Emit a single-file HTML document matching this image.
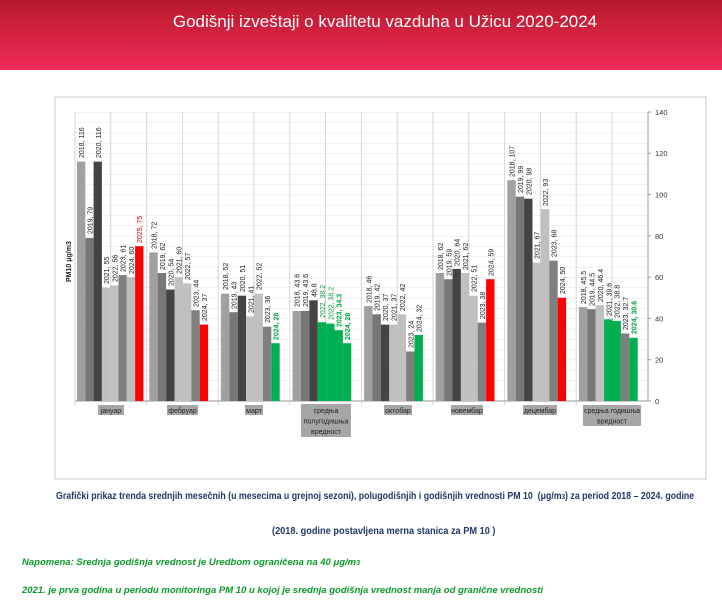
<!DOCTYPE html>
<html><head><meta charset="utf-8"><style>
body{margin:0;width:722px;height:600px;background:#fff;overflow:hidden;font-family:"Liberation Sans",sans-serif;position:relative}
.hdr{position:absolute;left:0;top:0;width:722px;height:70px;background:linear-gradient(#b81a2b,#f02a58)}
.hdr div{position:absolute;left:24px;width:722px;top:12px;text-align:center;color:#fff;font-size:17px}
.t{position:absolute;font-weight:bold;font-size:10px;color:#1f3864;white-space:nowrap;transform:scaleX(0.92);transform-origin:0 0}
.g{position:absolute;left:22px;font-weight:bold;font-style:italic;font-size:9.5px;color:#0a9a2a;white-space:nowrap}
svg{position:absolute;left:0;top:0}
</style></head><body>
<div class="hdr"><div>Godišnji izveštaji o kvalitetu vazduha u Užicu 2020-2024</div></div>
<svg width="722" height="600" font-family="Liberation Sans, DejaVu Sans, sans-serif">
<defs><pattern id="hp" x="0" y="401" width="10" height="10.32" patternUnits="userSpaceOnUse"><line x1="0" y1="0" x2="10" y2="0" stroke="#e3e3e3" stroke-width="1"/></pattern></defs>
<rect x="55" y="97" width="651" height="382" fill="#fff" stroke="#c8c8c8"/>
<rect x="75" y="112" width="573" height="289" fill="url(#hp)"/>
<g stroke="#d6d6d6">
<line x1="110.8" y1="112" x2="110.8" y2="401"/><line x1="182.4" y1="112" x2="182.4" y2="401"/><line x1="254" y1="112" x2="254" y2="401"/><line x1="325.6" y1="112" x2="325.6" y2="401"/><line x1="397.2" y1="112" x2="397.2" y2="401"/><line x1="468.8" y1="112" x2="468.8" y2="401"/><line x1="540.4" y1="112" x2="540.4" y2="401"/><line x1="612" y1="112" x2="612" y2="401"/>
<line x1="75" y1="112" x2="75" y2="405"/><line x1="146.6" y1="112" x2="146.6" y2="405"/><line x1="218.2" y1="112" x2="218.2" y2="405"/><line x1="289.8" y1="112" x2="289.8" y2="405"/><line x1="361.4" y1="112" x2="361.4" y2="405"/><line x1="433" y1="112" x2="433" y2="405"/><line x1="504.6" y1="112" x2="504.6" y2="405"/><line x1="576.2" y1="112" x2="576.2" y2="405"/>
</g>
<line x1="75" y1="401" x2="648" y2="401" stroke="#999"/>
<line x1="648" y1="112" x2="648" y2="401" stroke="#999"/>
<g stroke="#999"><line x1="648" y1="112" x2="651" y2="112"/><line x1="648" y1="153.2" x2="651" y2="153.2"/><line x1="648" y1="194.6" x2="651" y2="194.6"/><line x1="648" y1="235.9" x2="651" y2="235.9"/><line x1="648" y1="277.2" x2="651" y2="277.2"/><line x1="648" y1="318.4" x2="651" y2="318.4"/><line x1="648" y1="359.7" x2="651" y2="359.7"/><line x1="648" y1="401" x2="651" y2="401"/></g>
<g font-size="7.5" fill="#333"><text x="655" y="115">140</text><text x="655" y="156">120</text><text x="655" y="197.5">100</text><text x="655" y="239">80</text><text x="655" y="280">60</text><text x="655" y="321.5">40</text><text x="655" y="362.5">20</text><text x="655" y="404">0</text></g>
<text transform="translate(71,282) rotate(-90)" font-size="7" font-weight="bold" fill="#222">PM10 μg/m3</text>
<rect x="77" y="161.6" width="8.3" height="239.4" fill="#a0a0a0"/><rect x="85.3" y="237.9" width="8.3" height="163.1" fill="#777"/><rect x="93.6" y="161.6" width="8.3" height="239.4" fill="#444"/><rect x="101.9" y="287.5" width="8.3" height="113.5" fill="#c0c0c0"/><rect x="110.2" y="285.4" width="8.3" height="115.6" fill="#c0c0c0"/><rect x="118.5" y="275.1" width="8.3" height="125.9" fill="#7f7f7f"/><rect x="126.8" y="277.2" width="8.3" height="123.8" fill="#bdbdbd"/><rect x="135.1" y="246.2" width="8.3" height="154.8" fill="#f00"/>
<rect x="149.3" y="252.4" width="8.4" height="148.6" fill="#a0a0a0"/><rect x="157.7" y="273" width="8.4" height="128" fill="#777"/><rect x="166.1" y="289.5" width="8.4" height="111.5" fill="#444"/><rect x="174.5" y="277.2" width="8.4" height="123.8" fill="#c0c0c0"/><rect x="182.9" y="283.4" width="8.4" height="117.6" fill="#c0c0c0"/><rect x="191.3" y="310.2" width="8.4" height="90.8" fill="#7f7f7f"/><rect x="199.7" y="324.6" width="8.4" height="76.4" fill="#f00"/>
<rect x="220.9" y="293.7" width="8.4" height="107.3" fill="#a0a0a0"/><rect x="229.3" y="312.2" width="8.4" height="88.8" fill="#777"/><rect x="237.7" y="295.7" width="8.4" height="105.3" fill="#444"/><rect x="246.1" y="316.4" width="8.4" height="84.6" fill="#c0c0c0"/><rect x="254.5" y="293.7" width="8.4" height="107.3" fill="#c0c0c0"/><rect x="262.9" y="326.7" width="8.4" height="74.3" fill="#7f7f7f"/><rect x="271.3" y="343.2" width="8.4" height="57.8" fill="#00b050"/>
<rect x="292.5" y="311" width="8.4" height="90" fill="#a0a0a0"/><rect x="300.9" y="311" width="8.4" height="90" fill="#777"/><rect x="309.3" y="300.3" width="8.4" height="100.7" fill="#444"/><rect x="317.7" y="322.2" width="8.4" height="78.8" fill="#00b050"/><rect x="326.1" y="323.6" width="8.4" height="77.4" fill="#00b050"/><rect x="334.5" y="330.2" width="8.4" height="70.8" fill="#00b050"/><rect x="342.9" y="343.2" width="8.4" height="57.8" fill="#00b050"/>
<rect x="364.1" y="306.1" width="8.4" height="94.9" fill="#a0a0a0"/><rect x="372.5" y="314.3" width="8.4" height="86.7" fill="#777"/><rect x="380.9" y="324.6" width="8.4" height="76.4" fill="#444"/><rect x="389.3" y="324.6" width="8.4" height="76.4" fill="#c0c0c0"/><rect x="397.7" y="314.3" width="8.4" height="86.7" fill="#c0c0c0"/><rect x="406.1" y="351.5" width="8.4" height="49.5" fill="#7f7f7f"/><rect x="414.5" y="335" width="8.4" height="66" fill="#00b050"/>
<rect x="435.7" y="273" width="8.4" height="128" fill="#a0a0a0"/><rect x="444.1" y="279.2" width="8.4" height="121.8" fill="#777"/><rect x="452.5" y="268.9" width="8.4" height="132.1" fill="#444"/><rect x="460.9" y="273" width="8.4" height="128" fill="#c0c0c0"/><rect x="469.3" y="295.7" width="8.4" height="105.3" fill="#c0c0c0"/><rect x="477.7" y="322.6" width="8.4" height="78.4" fill="#7f7f7f"/><rect x="486.1" y="279.2" width="8.4" height="121.8" fill="#f00"/>
<rect x="507.3" y="180.2" width="8.4" height="220.8" fill="#a0a0a0"/><rect x="515.7" y="196.7" width="8.4" height="204.3" fill="#777"/><rect x="524.1" y="198.7" width="8.4" height="202.3" fill="#444"/><rect x="532.5" y="262.7" width="8.4" height="138.3" fill="#c0c0c0"/><rect x="540.9" y="209" width="8.4" height="192" fill="#c0c0c0"/><rect x="549.3" y="260.6" width="8.4" height="140.4" fill="#7f7f7f"/><rect x="557.7" y="297.8" width="8.4" height="103.2" fill="#f00"/>
<rect x="578.9" y="307.1" width="8.4" height="93.9" fill="#a0a0a0"/><rect x="587.3" y="309.2" width="8.4" height="91.8" fill="#777"/><rect x="595.7" y="305.2" width="8.4" height="95.8" fill="#c0c0c0"/><rect x="604.1" y="319.3" width="8.4" height="81.7" fill="#00b050"/><rect x="612.5" y="320.9" width="8.4" height="80.1" fill="#00b050"/><rect x="620.9" y="333.5" width="8.4" height="67.5" fill="#7f7f7f"/><rect x="629.3" y="337.8" width="8.4" height="63.2" fill="#00b050"/>
<g font-size="7" fill="#222">
<text transform="translate(84,158) rotate(-90)">2018, 116</text><text transform="translate(92.5,234) rotate(-90)">2019, 79</text><text transform="translate(100.8,158) rotate(-90)">2020, 116</text><text transform="translate(109,284) rotate(-90)">2021, 55</text><text transform="translate(117.3,282) rotate(-90)">2022, 56</text><text transform="translate(125.6,272) rotate(-90)">2023, 61</text><text transform="translate(133.9,274) rotate(-90)">2024, 60</text><text transform="translate(142.2,243) rotate(-90)" fill="#c00">2025, 75</text>
<text transform="translate(156.5,249) rotate(-90)">2018, 72</text><text transform="translate(164.9,270) rotate(-90)">2019, 62</text><text transform="translate(173.3,286) rotate(-90)">2020, 54</text><text transform="translate(181.7,274) rotate(-90)">2021, 60</text><text transform="translate(190.1,280) rotate(-90)">2022, 57</text><text transform="translate(198.5,307) rotate(-90)">2023, 44</text><text transform="translate(206.9,321) rotate(-90)">2024, 37</text>
<text transform="translate(228.1,290) rotate(-90)">2018, 52</text><text transform="translate(236.5,309) rotate(-90)">2019, 43</text><text transform="translate(244.9,292) rotate(-90)">2020, 51</text><text transform="translate(253.3,313) rotate(-90)">2021, 41</text><text transform="translate(261.7,290) rotate(-90)">2022, 52</text><text transform="translate(270.1,323) rotate(-90)">2023, 36</text><text transform="translate(278.5,340) rotate(-90)" fill="#00a040" font-weight="bold">2024, 28</text>
<text transform="translate(299.7,307) rotate(-90)">2018, 43.6</text><text transform="translate(308.1,307) rotate(-90)">2019, 43.6</text><text transform="translate(316.5,297) rotate(-90)">48.8</text><text transform="translate(324.9,318) rotate(-90)" fill="#00a040">2022, 38.2</text><text transform="translate(333.3,320) rotate(-90)" fill="#00a040">2022, 38.2</text><text transform="translate(341.7,327) rotate(-90)" fill="#00a040" font-weight="bold">2023, 34.3</text><text transform="translate(350.1,340) rotate(-90)" fill="#00a040" font-weight="bold">2024, 28</text>
<text transform="translate(371.3,303) rotate(-90)">2018, 46</text><text transform="translate(379.7,311) rotate(-90)">2019, 42</text><text transform="translate(388.1,321) rotate(-90)">2020, 37</text><text transform="translate(396.5,321) rotate(-90)">2021, 37</text><text transform="translate(404.9,311) rotate(-90)">2022, 42</text><text transform="translate(413.3,348) rotate(-90)">2023, 24</text><text transform="translate(421.7,332) rotate(-90)">2024, 32</text>
<text transform="translate(442.9,270) rotate(-90)">2018, 62</text><text transform="translate(451.3,276) rotate(-90)">2019, 59</text><text transform="translate(459.7,266) rotate(-90)">2020, 64</text><text transform="translate(468.1,270) rotate(-90)">2021, 62</text><text transform="translate(476.5,292) rotate(-90)">2022, 51</text><text transform="translate(484.9,319) rotate(-90)">2023, 38</text><text transform="translate(493.3,276) rotate(-90)">2024, 59</text>
<text transform="translate(514.5,177) rotate(-90)">2018, 107</text><text transform="translate(522.9,193) rotate(-90)">2019, 99</text><text transform="translate(531.3,195) rotate(-90)">2020, 98</text><text transform="translate(539.7,259) rotate(-90)">2021, 67</text><text transform="translate(548.1,206) rotate(-90)">2022, 93</text><text transform="translate(556.5,257) rotate(-90)">2023, 68</text><text transform="translate(564.9,294) rotate(-90)">2024, 50</text>
<text transform="translate(586.1,304) rotate(-90)">2018, 45.5</text><text transform="translate(594.5,306) rotate(-90)">2019, 44.5</text><text transform="translate(602.9,302) rotate(-90)">2020, 46.4</text><text transform="translate(611.3,316) rotate(-90)">2021, 39.6</text><text transform="translate(619.7,318) rotate(-90)">2022, 38.8</text><text transform="translate(628.1,330) rotate(-90)">2023, 32.7</text><text transform="translate(636.5,334) rotate(-90)" fill="#00a040" font-weight="bold">2024, 30.6</text>
</g>
<g fill="#a6a6a6"><rect x="98" y="405" width="26" height="10"/><rect x="167" y="405" width="31" height="10"/><rect x="245" y="405" width="18" height="10"/><rect x="301" y="404" width="50" height="33"/><rect x="384" y="405" width="28" height="10"/><rect x="451" y="405" width="32" height="10"/><rect x="523" y="405" width="34" height="10"/><rect x="583" y="405" width="58" height="21"/></g>
<g font-size="7" fill="#222" text-anchor="middle">
<text x="111" y="413">јануар</text><text x="182.5" y="413">фебруар</text><text x="254" y="413">март</text>
<text x="326" y="413">средња</text><text x="326" y="423.5">полугодишња</text><text x="326" y="434">вредност</text>
<text x="398" y="413">октобар</text><text x="467" y="413">новембар</text><text x="540" y="413">децембар</text>
<text x="612" y="413">средња годишња</text><text x="612" y="423.5">вредност</text>
</g>
</svg>
<div class="t" style="left:56px;top:491px;transform:scaleX(0.88)">Grafički prikaz trenda srednjih mesečnih (u mesecima u grejnoj sezoni), polugodišnjih i godišnjih vrednosti PM 10 &nbsp;(μg/m<span style="font-size:7px">3</span>) za period 2018 – 2024. godine</div>
<div class="t" style="left:272px;top:526px">(2018. godine postavljena merna stanica za PM 10 )</div>
<div class="g" style="top:557px">Napomena: Srednja godišnja vrednost je Uredbom ograničena na 40 μg/m<span style="font-size:7px">3</span></div>
<div class="g" style="top:585px">2021. je prva godina u periodu monitoringa PM 10 u kojoj je srednja godišnja vrednost manja od granične vrednosti</div>
</body></html>
